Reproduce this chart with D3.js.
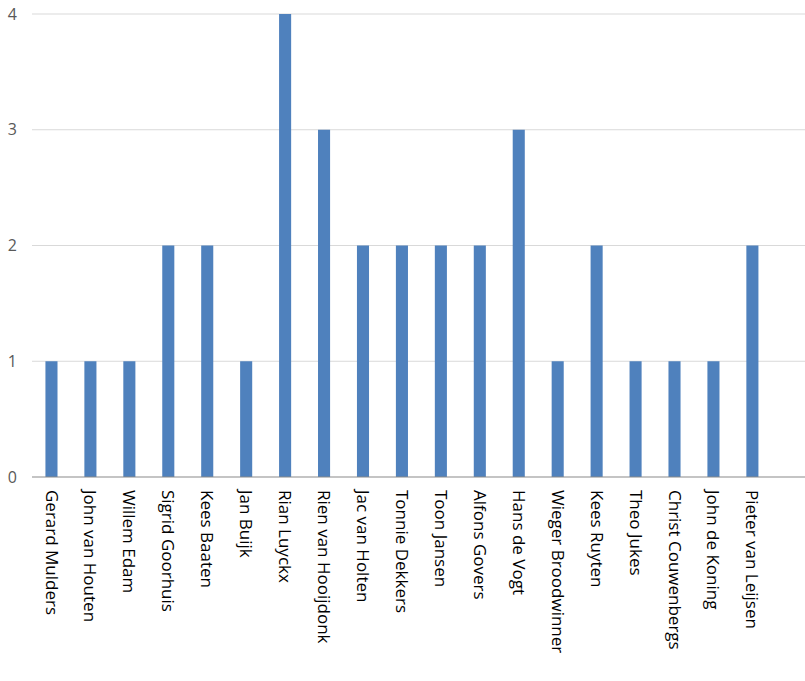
<!DOCTYPE html>
<html><head><meta charset="utf-8">
<script src="https://cdn.jsdelivr.net/npm/d3@7"></script>
<style>body{margin:0;background:#fff}</style>
</head><body>
<svg id="c" width="805" height="681"></svg>
<script>
const categories = ["Gerard Mulders","John van Houten","Willem Edam","Sigrid Goorhuis","Kees Baaten","Jan Buijk","Rian Luyckx","Rien van Hooijdonk","Jac van Holten","Tonnie Dekkers","Toon Jansen","Alfons Govers","Hans de Vogt","Wieger Broodwinner","Kees Ruyten","Theo Jukes","Christ Couwenbergs","John de Koning","Pieter van Leijsen"];
const values = [1,1,1,2,2,1,4,3,2,2,2,2,3,1,2,1,1,1,2];
const yTicks = [0,1,2,3,4];

(function(){
const svg = d3.select("#c");
const mLeft = 32, mTop = 14, mBottom = 477, band = 38.94;
const x = d3.scaleBand().domain(categories).range([mLeft, mLeft + band*categories.length]).paddingInner(0.69).paddingOuter(0.345);
const y = d3.scaleLinear().domain([0,4]).range([mBottom, mTop]);
const font = "'Open Sans', sans-serif";

svg.append("g").selectAll("line").data(yTicks.filter(d=>d>0)).join("line")
  .attr("x1", mLeft).attr("x2", 805).attr("y1", d=>y(d)).attr("y2", d=>y(d))
  .attr("stroke", "#d9d9d9").attr("stroke-width", 1);

svg.append("g").selectAll("rect").data(values).join("rect")
  .attr("x", (d,i)=>x(categories[i])).attr("width", x.bandwidth())
  .attr("y", d=>y(d)).attr("height", d=>mBottom - y(d))
  .attr("fill", "#4f81bd");

svg.append("line").attr("x1", mLeft).attr("x2", 805).attr("y1", mBottom).attr("y2", mBottom)
  .attr("stroke", "#898989").attr("stroke-width", 1);

svg.append("g").selectAll("text").data(yTicks).join("text")
  .attr("x", 17).attr("y", d=>y(d)).attr("dy", "0.35em")
  .attr("text-anchor", "end").attr("font-family", font).attr("font-size", 16)
  .attr("fill", "#595959").text(d=>d);

svg.append("g").selectAll("text").data(categories).join("text")
  .attr("transform", d=>`translate(${x(d)+x.bandwidth()/2},${mBottom+13}) rotate(90)`)
  .attr("dy", "0.35em").attr("text-anchor", "start")
  .attr("font-family", font).attr("font-size", 17).attr("fill", "#000")
  .text(d=>d);
})();
</script>
</body></html>
